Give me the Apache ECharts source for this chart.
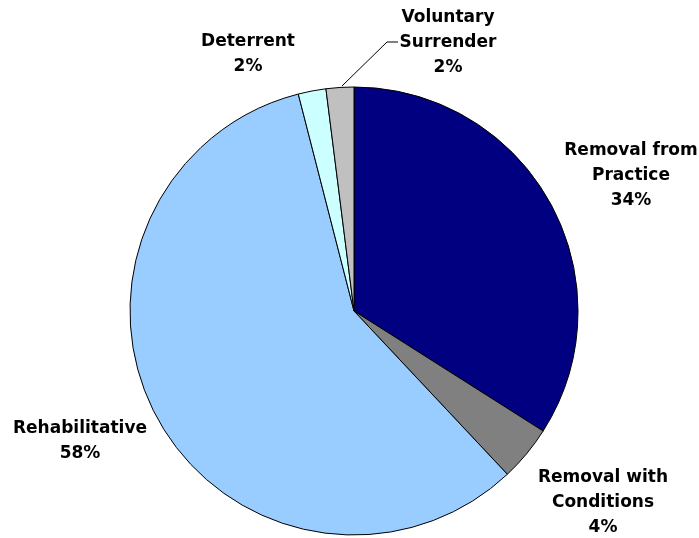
<!DOCTYPE html>
<html><head><meta charset="utf-8">
<script src="https://cdn.jsdelivr.net/npm/echarts@6/dist/echarts.min.js"></script>
<style>html,body{margin:0;padding:0;background:#fff}#c{width:699px;height:538px}</style>
</head><body><div id="c"></div>
<script>
const categories = ["Removal from\nPractice", "Removal with\nConditions", "Rehabilitative", "Deterrent", "Voluntary\nSurrender"];
const values = [34, 4, 58, 2, 2];
const colors = ["#000080", "#808080", "#99CCFF", "#CCFFFF", "#C0C0C0"];
const labelPos = [[631, 176], [603, 503], [80, 441], [248, 54], [448, 43]];

const chart = echarts.init(document.getElementById('c'), null, {renderer: 'canvas'});
chart.setOption({
  animation: false,
  backgroundColor: '#fff',
  series: [{
    type: 'pie',
    center: [354, 311],
    radius: 224,
    startAngle: 90,
    clockwise: true,
    percentPrecision: 0,
    avoidLabelOverlap: false,
    data: categories.map((c, i) => ({
      name: c, value: values[i],
      itemStyle: {color: colors[i]},
      labelLine: {show: i === 4}
    })),
    itemStyle: {borderColor: '#000', borderWidth: 1},
    label: {
      show: true, position: 'outside',
      formatter: '{b}\n{d}%',
      fontFamily: 'DejaVu Sans', fontWeight: 'bold', fontSize: 17,
      lineHeight: 25, color: '#000', align: 'center',
      overflow: 'none', width: 300
    },
    labelLine: {lineStyle: {color: '#000', width: 1}, length: 10, length2: 10},
    labelLayout: function (p) {
      const pos = labelPos[p.dataIndex];
      const r = {x: pos[0], y: pos[1], align: 'center', verticalAlign: 'middle', hideOverlap: false};
      if (p.dataIndex === 4) {
        r.labelLinePoints = [[342, 86], [387, 42], [398, 42]];
      }
      return r;
    }
  }]
});
</script></body></html>
